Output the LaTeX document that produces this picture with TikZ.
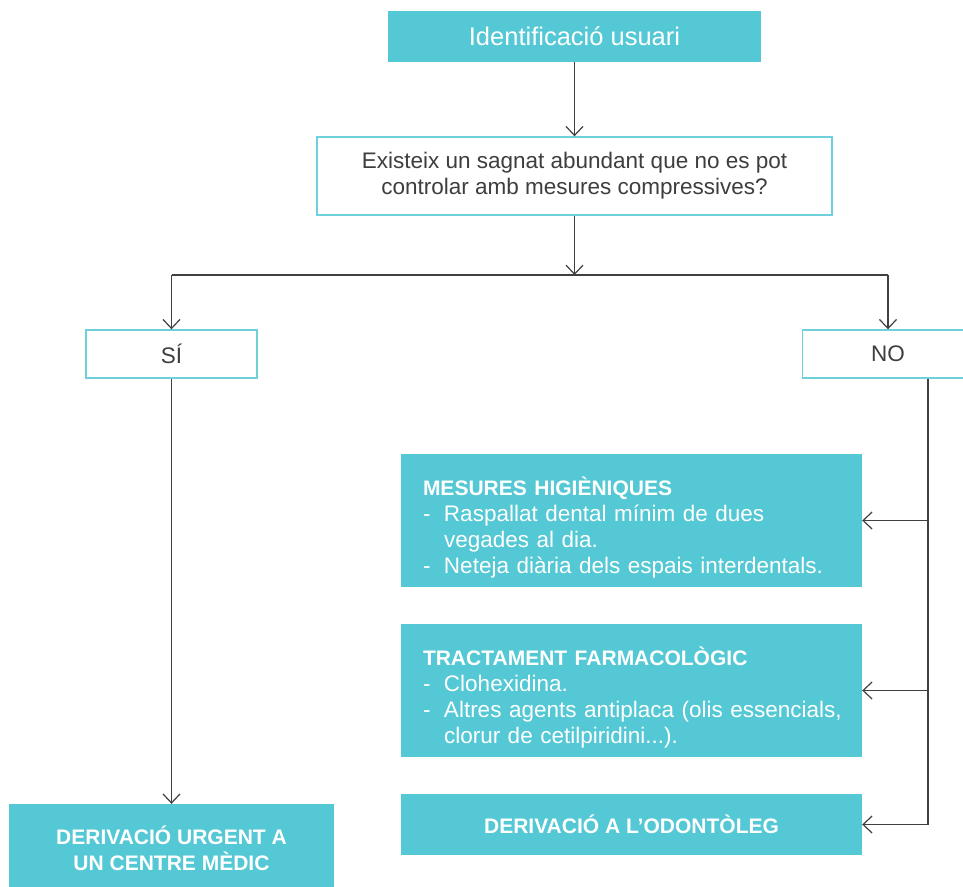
\documentclass[tikz,border=0pt]{standalone}
\usepackage{fontspec}
\setmainfont{Liberation Sans}
\usetikzlibrary{arrows.meta}
\definecolor{tealfill}{RGB}{84,200,212}
\definecolor{tealedge}{RGB}{110,208,218}
\definecolor{inkgray}{RGB}{62,62,62}
\definecolor{wiregray}{RGB}{64,64,64}
% hanging dash for the list lines
\newcommand{\dashitem}{\makebox[21pt][l]{-}}
\newcommand{\hangpad}{\hspace*{21pt}}
% fixed first-line height and last-line depth, so list blocks sit at a set place
\newcommand{\toplinestrut}{\rule{0pt}{33pt}}
\newcommand{\lastlinestrut}{\rule[-6pt]{0pt}{6pt}}
\begin{document}
\begin{tikzpicture}[
  x=1pt, y=-1pt,
  solidbox/.style={rectangle, fill=tealfill, text=white, inner sep=0pt},
  openbox/.style={rectangle, draw=tealedge, line width=1.4pt, fill=white, text=inkgray, inner sep=0pt},
  regtext/.style={font=\fontsize{22.5}{26}\selectfont},
  boldtext/.style={font=\fontsize{21}{26}\selectfont\bfseries},
  listbox/.style={solidbox, regtext, align=left, text width=417pt, inner xsep=22pt, minimum height=133pt},
  wire/.style={draw=wiregray, line width=1.2pt},
  arr/.style={wire, -{Straight Barb[length=9pt,width=17pt,line width=1.2pt]}},
]
\useasboundingbox (0,0) rectangle (963,886);
\clip (0,0) rectangle (963,886);

% boxes
\node[solidbox, minimum width=373pt, minimum height=51pt,
      font=\fontsize{25.5}{30}\selectfont] (top) at (574.5,36.5) {Identificació usuari};
\node[openbox, regtext, align=center, minimum width=515pt, minimum height=78pt] (q) at (574.5,176)
  {Existeix un sagnat abundant que no es pot\\controlar amb mesures compressives?};
\node[openbox, regtext, minimum width=171pt, minimum height=48pt] (si) at (171.5,354) {SÍ};
\node[openbox, regtext, minimum width=171pt, minimum height=48pt] (no) at (888,354) {NO};

\node[listbox] (mes) at (631.5,520.5)
  {\toplinestrut\textbf{\fontsize{21}{26}\selectfont MESURES HIGIÈNIQUES}\\
   \dashitem Raspallat dental mínim de dues\\
   \hangpad vegades al dia.\\
   \dashitem Neteja diària dels espais interdentals.\lastlinestrut};
\node[listbox] (tra) at (631.5,690.5)
  {\toplinestrut\textbf{\fontsize{21}{26}\selectfont TRACTAMENT FARMACOLÒGIC}\\
   \dashitem Clohexidina.\\
   \dashitem \mbox{Altres agents antiplaca (olis essencials,}\\
   \hangpad clorur de cetilpiridini...).\lastlinestrut};
\node[solidbox, boldtext, minimum width=461pt, minimum height=61pt] (odo) at (631.5,824.5)
  {DERIVACIÓ A L’ODONTÒLEG};
\node[solidbox, boldtext, align=center, minimum width=325pt, minimum height=89pt] (urg) at (171.5,848.5)
  {DERIVACIÓ URGENT A\\UN CENTRE MÈDIC};

% connectors
\coordinate (split) at (574.5,275);
\coordinate (splitL) at (171.5,275);
\coordinate (splitR) at (888,275);
\coordinate (trunk) at ([xshift=40pt]no.south);

\draw[arr] (top) -- (q);
\draw[arr] (q) -- (split);
\draw[wire] (splitL) -- (splitR);
\draw[arr] (splitL) -- (si);
\draw[arr] (splitR) -- (no);
\draw[arr] (si) -- (urg);
\draw[arr] (trunk) |- (odo.east);
\draw[arr] (trunk |- mes.east) -- (mes.east);
\draw[arr] (trunk |- tra.east) -- (tra.east);
\end{tikzpicture}
\end{document}
